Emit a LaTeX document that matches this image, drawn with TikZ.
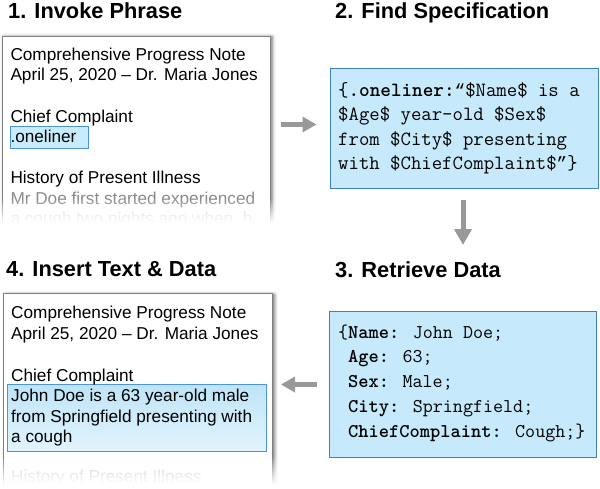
\documentclass[tikz,border=0pt]{standalone}
\usepackage{fontspec}
\setmainfont{Liberation Sans}
\newfontfamily\quotemono[Scale=0.875]{Liberation Mono}
\usetikzlibrary{arrows.meta,fadings,shadows.blur}
\definecolor{specfill}{HTML}{C6EAFB}
\definecolor{specdraw}{HTML}{3F80C0}
\definecolor{markfill}{HTML}{C8ECFC}
\definecolor{marktop}{HTML}{BEE4F8}
\definecolor{markbot}{HTML}{E2F4FD}
\definecolor{markdraw}{HTML}{4E94D2}
\definecolor{arrowgray}{HTML}{999999}
\definecolor{framegray}{HTML}{808080}
\definecolor{dimtext}{HTML}{8A8A8A}
\definecolor{faintext}{HTML}{C8C8C8}
\tikzfading[name=fadedown, top color=transparent!100, bottom color=transparent!0]
\begin{document}
\begin{tikzpicture}[x=1pt,y=-1pt,
  title/.style={anchor=base west, inner sep=0, font=\fontsize{21.8}{25}\selectfont\bfseries},
  body/.style={anchor=base west, inner sep=0, font=\fontsize{17.2}{20}\selectfont},
  code/.style={anchor=base west, inner sep=0, font=\fontsize{20.2}{24}\selectfont\ttfamily},
  codesm/.style={code, font=\fontsize{19.5}{24}\selectfont\ttfamily},
  docbox/.style={draw=framegray, line width=0.8pt, fill=white, anchor=north west, inner sep=0,
    blur shadow={shadow xshift=2.2pt, shadow yshift=-1pt, shadow blur radius=3.5pt, shadow opacity=60}},
  specbox/.style={draw=specdraw, line width=1pt, fill=specfill, anchor=north west, inner sep=0},
  markbox/.style={draw=markdraw, line width=0.8pt, anchor=north west, inner sep=0},
  flow/.style={draw=arrowgray, line width=5pt, -{Triangle[length=14pt 0, width=15pt 0]}},
  fadeover/.style={fill=white, path fading=fadedown},
]
\useasboundingbox (0,0) rectangle (600,488);

% titles
\node[title] (t1) at (8,18.3) {1. Invoke Phrase};
\node[title] (t2) at (335,18.3) {2. Find Specification};
\node[title] (t3) at (335,277.3) {3. Retrieve Data};
\node[title] (t4) at (6,276.5) {4. Insert Text \& Data};

% box 1
\begin{scope}
\clip (-5,28) rectangle (295,222);
\node[docbox, minimum width=268pt, minimum height=200pt] (doc1) at (1.5,35.5) {};
\node[markbox, fill=markfill, minimum width=78pt, minimum height=22.3pt] (mark1) at (9.7,126) {};
\node[body] (d1a) at (10.3,60) {Comprehensive Progress Note};
\node[body] (d1b) at (10.3,80.5) {April 25, 2020 – Dr. Maria Jones};
\node[body] (d1c) at (10.3,122.5) {Chief Complaint};
\node[body] (d1d) at (10.3,142) {.oneliner};
\node[body] (d1e) at (10.3,183.5) {History of Present Illness};
\node[body, text=dimtext] (d1f) at (10.3,204) {Mr Doe first started experienced};
\node[body, text=faintext] (d1g) at (10.3,224.5) {a cough two nights ago when, h};
\fill[fadeover] (-5,198) rectangle (295,222.5);
\end{scope}

% box 2
\node[specbox, minimum width=267.7pt, minimum height=120.6pt] (spec) at (330,67.7) {};
\node[code] (s1) at (338,96.5) {\{\textbf{.oneliner:}{\quotemono “}\$Name\$ is a};
\node[code] (s2) at (338,120.7) {\$Age\$ year-old \$Sex\$};
\node[code] (s3) at (338,145) {from \$City\$ presenting};
\node[code] (s4) at (338,169) {with \$ChiefComplaint\${\quotemono ”}\}};

% box 3
\node[specbox, minimum width=266.7pt, minimum height=146.3pt] (data) at (329.3,311) {};
\node[codesm] (r1) at (338,338) {\{\textbf{Name:} John Doe;};
\node[codesm] (r2) at (338,362.8) {\hphantom{\{}\textbf{Age:} 63;};
\node[codesm] (r3) at (338,387.6) {\hphantom{\{}\textbf{Sex:} Male;};
\node[codesm] (r4) at (338,412.4) {\hphantom{\{}\textbf{City:} Springfield;};
\node[codesm] (r5) at (338,437.2) {\hphantom{\{}\textbf{ChiefComplaint:} Cough;\}};

% box 4
\begin{scope}
\clip (-5,286) rectangle (295,484);
\node[docbox, minimum width=268.4pt, minimum height=210pt] (doc4) at (3.3,293.3) {};
\node[markbox, top color=marktop, bottom color=markbot, minimum width=258.4pt, minimum height=66.4pt] (mark4) at (7.3,384.3) {};
\node[body] (d4a) at (11,318.3) {Comprehensive Progress Note};
\node[body] (d4b) at (11,339.3) {April 25, 2020 – Dr. Maria Jones};
\node[body] (d4c) at (11,381.5) {Chief Complaint};
\node[body] (d4d) at (11,401.7) {John Doe is a 63 year-old male};
\node[body] (d4e) at (11,422.7) {from Springfield presenting with};
\node[body] (d4f) at (11,442.7) {a cough};
\node[body, text=faintext] (d4g) at (11,482) {History of Present Illness};
\fill[fadeover] (-5,456) rectangle (295,484.5);
\end{scope}

% connectors
\coordinate (a1s) at (281,124.5);
\coordinate (a1e) at (316.5,124.5);
\coordinate (a2s) at (463,200);
\coordinate (a2e) at (463,245);
\coordinate (a3s) at (316.5,384.5);
\coordinate (a3e) at (281,384.5);
\draw[flow] (a1s) -- (a1e);
\draw[flow, -{Triangle[length=16pt 0, width=17pt 0]}] (a2s) -- (a2e);
\draw[flow] (a3s) -- (a3e);
\end{tikzpicture}
\end{document}
